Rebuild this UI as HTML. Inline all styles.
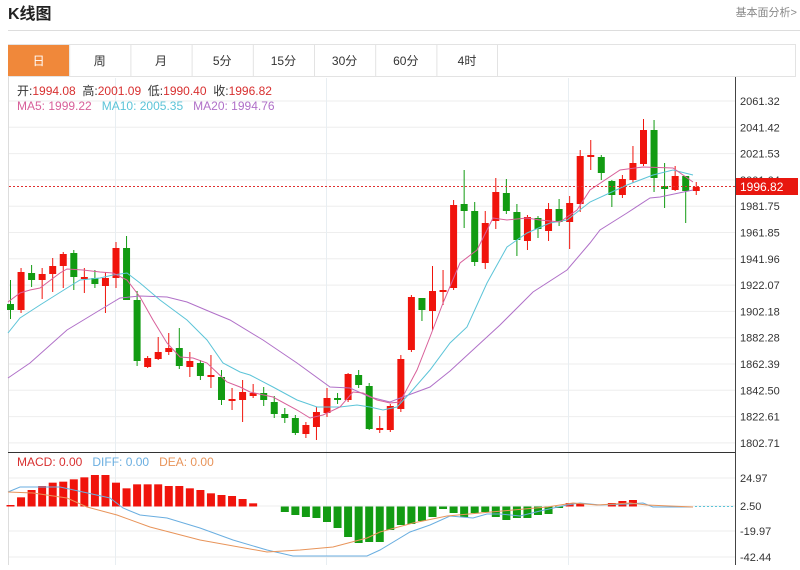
<!DOCTYPE html>
<html><head><meta charset="utf-8"><style>
body{margin:0;width:800px;height:565px;overflow:hidden;background:#fff;font-family:"Liberation Sans","Noto Sans CJK SC",sans-serif;}
svg text{font-family:"Liberation Sans","Noto Sans CJK SC",sans-serif;}
</style></head><body>
<svg id="s" width="800" height="565" xmlns="http://www.w3.org/2000/svg">
<text x="8" y="19" font-size="16" font-weight="bold" fill="#222">K线图</text>
<text x="797" y="16" font-size="11" fill="#888" text-anchor="end">基本面分析&gt;</text>
<line x1="8" y1="30.5" x2="800" y2="30.5" stroke="#ddd"/>
</svg>
<script>
const S=document.getElementById('s');
const ns='http://www.w3.org/2000/svg';
function el(t,a,txt){const e=document.createElementNS(ns,t);for(const k in a)e.setAttribute(k,a[k]);if(txt!==undefined)e.textContent=txt;S.appendChild(e);return e;}
const tabs=['日','周','月','5分','15分','30分','60分','4时'];
el('rect',{x:8.5,y:44.5,width:787,height:32,fill:'#fff',stroke:'#e3e3e3'});
tabs.forEach((t,i)=>{const x=8+i*61.2;
 if(i==0)el('rect',{x:8,y:45,width:61,height:31,fill:'#f0883a'});
 else el('line',{x1:x+0.5,y1:45,x2:x+0.5,y2:76,stroke:'#e3e3e3'});
 el('text',{x:x+30.6,y:65,'font-size':12,'text-anchor':'middle',fill:i==0?'#fff':'#333'},t);});
el('line',{x1:497.5,y1:45,x2:497.5,y2:76,stroke:'#e3e3e3'});
el('line',{x1:8.5,y1:76,x2:8.5,y2:565,stroke:'#ddd'});
el('line',{x1:735.5,y1:77,x2:735.5,y2:565,stroke:'#444'});
const labs=['2061.32','2041.42','2021.53','2001.64','1981.75','1961.85','1941.96','1922.07','1902.18','1882.28','1862.39','1842.50','1822.61','1802.71'];
labs.forEach((l,i)=>{const y=101+i*26.3;el('line',{x1:9,y1:y,x2:735,y2:y,stroke:'#eee'});el('text',{x:740,y:y+4,'font-size':11,fill:'#333'},l);});
[115,326,568].forEach(x=>el('line',{x1:x+.5,y1:78,x2:x+.5,y2:565,stroke:'#e8eef2'}));
[478,506,531,557].forEach(y=>el('line',{x1:9,y1:y,x2:735,y2:y,stroke:'#eee'}));
el('line',{x1:8,y1:452.5,x2:735,y2:452.5,stroke:'#333'});
[['24.97',478],['2.50',506],['-19.97',531],['-42.44',557]].forEach(a=>el('text',{x:740,y:a[1]+4,'font-size':11,fill:'#333'},a[0]));
const C=[['g',304,310,280,319],['r',272,310,268,313],['g',273,280,265,287],['r',274,280,268,299],['r',266,274,258,292],['r',254,266,252,288],['g',253,277,250,290],['r',277,279,268,293],['g',278,284,270,288],['r',278,286,272,313],['r',248,278,242,288],['g',248,300,236,300],['g',300,361,291,366],['r',358,367,356,368],['r',352,359,337,360],['r',348,352,333,355],['g',348,366,328,369],['r',361,367,352,377],['g',363,376,360,380],['r',375,377,355,388],['g',377,400,370,405],['r',399,401,388,410],['r',392,400,380,422],['r',393,396,384,398],['g',393,400,387,406],['g',402,414,396,418],['g',414,418,408,423],['g',418,433,415,435],['r',425,434,422,438],['r',412,427,407,440],['r',398,413,388,417],['g',398,400,393,404],['r',374,400,373,402],['g',375,385,370,388],['g',386,429,383,430],['r',428,430,416,433],['r',406,430,404,432],['r',359,409,355,412],['r',297,350,295,352],['g',298,310,298,321],['r',291,311,266,330],['r',290,292,270,305],['r',205,288,200,290],['g',204,211,170,228],['g',211,262,202,266],['r',223,263,211,269],['r',192,221,178,229],['g',193,211,179,214],['g',212,240,204,256],['r',217,241,215,250],['g',218,229,216,238],['r',209,231,203,241],['g',209,222,199,226],['r',203,222,196,249],['r',156,204,150,212],['r',155,157,140,170],['g',157,173,155,180],['g',181,195,180,207],['r',179,195,175,198],['r',163,180,146,183],['r',130,164,119,166],['g',130,178,120,192],['g',186,189,163,208],['r',176,190,166,191],['g',176,191,176,223],['r',187,191,182,195]];
const col={r:'#f0140c',g:'#129b12'};
C.forEach((c,i)=>{const x=10.5+i*10.55;
 el('line',{x1:x,y1:c[3],x2:x,y2:c[4],stroke:col[c[0]],'stroke-width':1});
 el('rect',{x:x-3.5,y:c[1],width:7,height:Math.max(2,c[2]-c[1]),fill:col[c[0]]});});
function pl(p,c){el('polyline',{points:p,fill:'none',stroke:c,'stroke-width':1});}
pl('8,378 30,363 67,330 100,310 120,298 140,296 167,297 187,302 213,313 230,320 263,340 297,363 330,387 350,388 370,397 390,402 403,397 430,387 450,371 500,325 533,292 567,270 590,243 600,230 627,213 650,198 660,197 693,190','#b070c8');
pl('8,333 20,318 40,305 67,288 80,280 100,278 113,275 127,273 140,283 160,300 187,320 207,340 223,363 240,372 250,375 273,387 297,400 317,407 340,407 357,405 370,407 383,410 397,407 410,393 430,370 450,343 467,327 487,283 507,247 527,233 550,223 567,220 590,202 627,185 653,175 673,170 693,175','#5cc4d8');
pl('8,302 20,293 30,290 40,288 60,273 67,269 83,270 100,272 113,273 127,280 140,297 153,320 167,343 180,357 193,358 207,363 227,382 240,387 250,392 273,397 297,410 310,418 323,415 340,407 353,392 363,393 377,400 390,403 400,402 417,370 430,337 443,303 460,263 477,250 493,218 507,220 527,218 540,220 560,222 577,210 590,190 620,170 643,167 673,168 693,182','#d8609a');
el('line',{x1:9,y1:186.5,x2:735,y2:186.5,stroke:'#e03030','stroke-dasharray':'2,2'});
el('rect',{x:736,y:178,width:62,height:17,fill:'#e8170f'});
el('text',{x:740,y:191,'font-size':12,fill:'#fff'},'1996.82');
const t1=el('text',{x:17,y:95,'font-size':12,fill:'#333'});t1.style.whiteSpace='pre';
t1.innerHTML='开:<tspan fill="#d83030">1994.08</tspan>  高:<tspan fill="#d83030">2001.09</tspan>  低:<tspan fill="#d83030">1990.40</tspan>  收:<tspan fill="#d83030">1996.82</tspan>';
const t2=el('text',{x:17,y:110,'font-size':12});t2.style.whiteSpace='pre';
t2.innerHTML='<tspan fill="#d8609a">MA5: 1999.22</tspan>   <tspan fill="#5cc4d8">MA10: 2005.35</tspan>   <tspan fill="#b070c8">MA20: 1994.76</tspan>';
const t3=el('text',{x:17,y:466,'font-size':12});t3.style.whiteSpace='pre';
t3.innerHTML='<tspan fill="#d83030">MACD: 0.00</tspan>   <tspan fill="#6aaee0">DIFF: 0.00</tspan>   <tspan fill="#e8945a">DEA: 0.00</tspan>';
const zt=[195,172,150,138,128,125,118,112,105,105,128,145,133,133,133,138,138,145,150,160,165,168,177,190];
const all=zt.map(t=>440+t/3);
all.push(506,507,512,515,517,518,522,528,537,543,542);
all.push(542,530,525,524,521,517,509,513,517,513,512,517,520,518,518,515,514,508,503,504,506,506,503,501,500,506,506,506,506,506,506);
all.forEach((y,i)=>{const x=10.5+i*10.55;const z=506.5;if(i>65)return;
 if(Math.abs(y-z)<1.5)return;
 if(y<z)el('rect',{x:x-4,y:y,width:8,height:z-y,fill:'#f0140c'});
 else el('rect',{x:x-4,y:z,width:8,height:y-z,fill:'#129b12'});});
el('line',{x1:695,y1:506.5,x2:735,y2:506.5,stroke:'#5cc4d8','stroke-dasharray':'2,2'});
pl('8,492 20,487 60,487 83,492 110,498 123,508 140,515 167,518 200,528 233,540 267,550 293,556 333,556 367,556 380,550 410,532 430,525 450,516 473,518 487,514 500,514 520,516 540,511 567,505 580,503 600,505 627,504 643,503 653,507 693,507','#6aaee0');
pl('8,492 33,493 67,498 87,507 117,515 150,527 200,540 267,552 300,550 333,547 367,538 380,532 413,523 447,516 480,513 513,510 547,507 573,503 597,505 630,503 647,505 693,507','#e8945a');
</script>
</body></html>
